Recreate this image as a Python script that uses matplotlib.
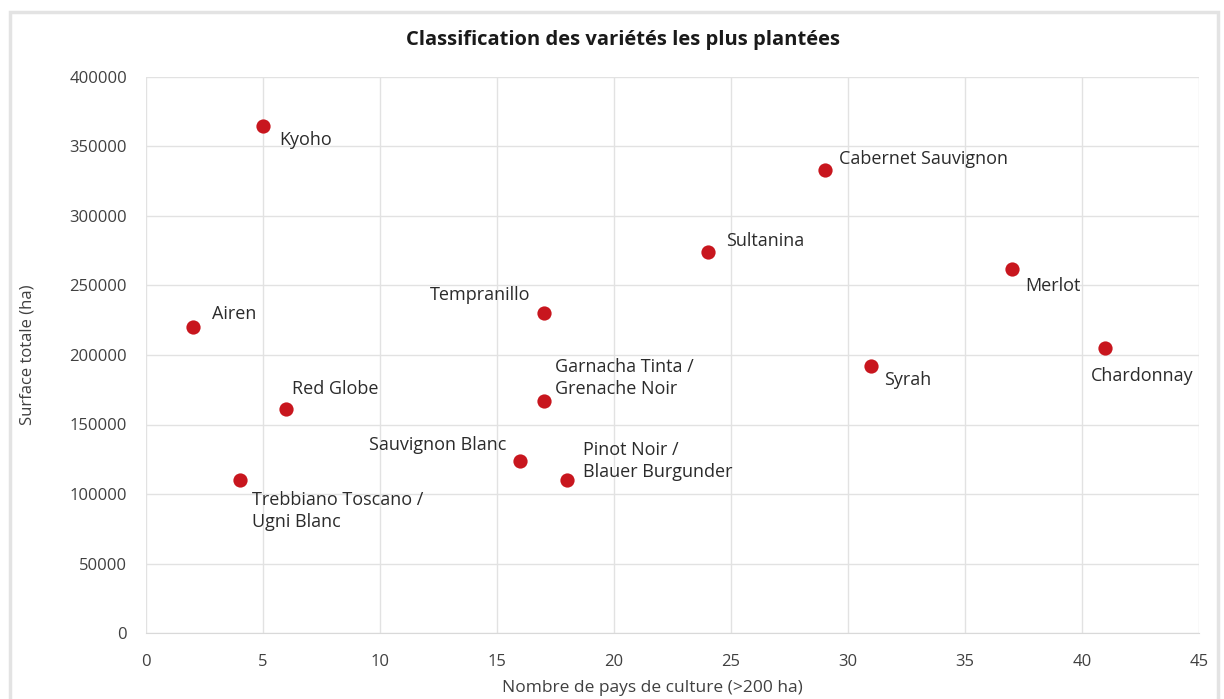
import matplotlib.pyplot as plt
from matplotlib.patches import Rectangle
from matplotlib.ticker import MultipleLocator, FuncFormatter

plt.rcParams['font.family'] = ['Open Sans', 'DejaVu Sans']

varieties = ['Kyoho', 'Cabernet Sauvignon', 'Sultanina', 'Merlot', 'Airen',
             'Tempranillo', 'Chardonnay', 'Syrah', 'Garnacha Tinta /\nGrenache Noir',
             'Red Globe', 'Sauvignon Blanc', 'Pinot Noir /\nBlauer Burgunder',
             'Trebbiano Toscano /\nUgni Blanc']
nb_pays = [5, 29, 24, 37, 2, 17, 41, 31, 17, 6, 16, 18, 4]
surface = [365000, 333000, 274000, 262000, 220000, 230000, 205000, 192000,
           167000, 161000, 124000, 110000, 110000]

# label placement: (dx, dy) in pixels, horizontal alignment
label_pos = [(16, -14, 'left'), (14, 11, 'left'), (18, 11, 'left'), (13, -17, 'left'),
             (19, 13, 'left'), (-13, 18, 'right'), (37, -28, 'center'), (13, -14, 'left'),
             (11, 23, 'left'), (6, 20, 'left'), (-14, 16, 'right'), (16, 19, 'left'),
             (12, -31, 'left')]

fig = plt.figure(figsize=(12.24, 6.99), dpi=100)
ax = fig.add_axes([146 / 1224, 1 - 633 / 699, 1053 / 1224, 556 / 699])

# light frame around the chart
fig.patches.append(Rectangle((10 / 1224, -0.01), 1208 / 1224, 1 - 12 / 699 + 0.01,
                             transform=fig.transFigure, fill=False,
                             edgecolor='#e3e3e3', linewidth=2.5))

ax.scatter(nb_pays, surface, s=105, color='#c8161e', zorder=3, linewidths=0)

for name, x, y, (dx, dy, ha) in zip(varieties, nb_pays, surface, label_pos):
    ax.annotate(name, (x, y), xytext=(dx, dy), textcoords='offset pixels',
                ha=ha, va='center', fontsize=13, color='#2b2b2b',
                linespacing=1.3)

ax.set_xlim(0, 45)
ax.set_ylim(0, 400000)
ax.xaxis.set_major_locator(MultipleLocator(5))
ax.yaxis.set_major_locator(MultipleLocator(50000))
ax.yaxis.set_major_formatter(FuncFormatter(lambda v, p: '%d' % v))
ax.grid(True, color='#e2e2e2', linewidth=1)
ax.set_axisbelow(True)
for side in ['top', 'right', 'left']:
    ax.spines[side].set_visible(False)
ax.spines['bottom'].set_color('#d9d9d9')
ax.tick_params(length=0, labelsize=12, colors='#404040')
ax.tick_params(axis='x', pad=14.8)
ax.tick_params(axis='y', pad=13.7)

fig.text(623 / 1224, 1 - 40 / 699, 'Classification des variétés les plus plantées',
         ha='center', va='center', fontsize=14.5, fontweight='bold', color='#1a1a1a')

ax.set_xlabel('Nombre de pays de culture (>200 ha)', fontsize=12.5, color='#404040')
ax.set_ylabel('Surface totale (ha)', fontsize=12, color='#404040')
ax.xaxis.label.set_va('center')
ax.yaxis.label.set_va('center')
ax.xaxis.set_label_coords((652 - 146) / 1053, (633 - 688) / 556)
ax.yaxis.set_label_coords((28 - 146) / 1053, 0.5)

fig.savefig('out.png', dpi=100)
